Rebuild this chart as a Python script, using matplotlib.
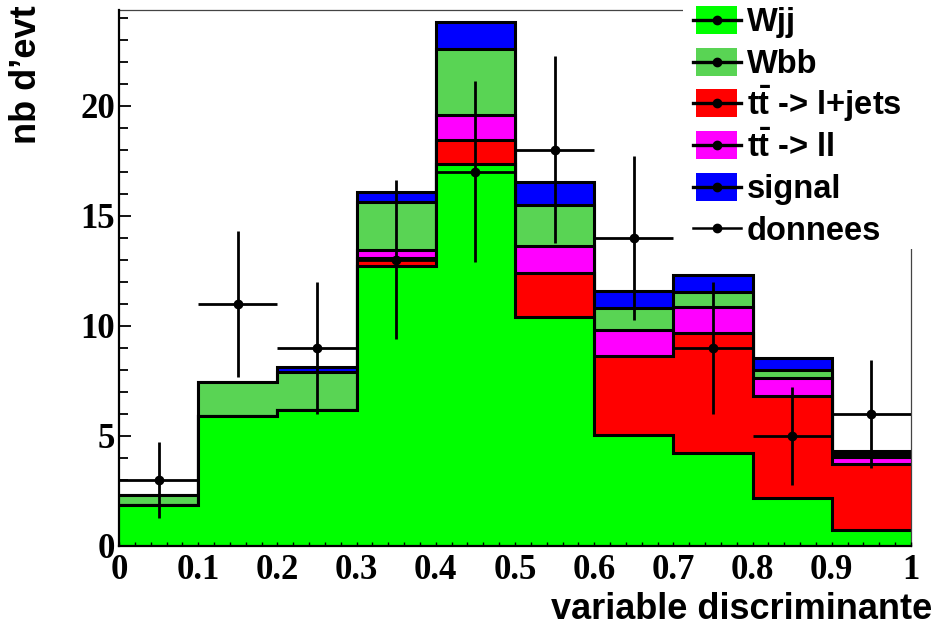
import numpy as np
import matplotlib
matplotlib.use("Agg")
import matplotlib.pyplot as plt
from matplotlib.patches import Rectangle
from matplotlib.lines import Line2D
from matplotlib.ticker import MultipleLocator
from matplotlib.font_manager import FontProperties

# ---------------- data ----------------
bin_edges = [0.0, 0.1, 0.2, 0.3, 0.4, 0.5, 0.6, 0.7, 0.8, 0.9, 1.0]
wjj      = [1.85, 5.90, 6.18, 12.72, 17.36, 10.42, 5.05, 4.24, 2.20, 0.73]
tt_ljets = [0.00, 0.00, 0.00, 0.38, 1.09, 1.98, 3.59, 5.43, 4.62, 2.98]
tt_ll    = [0.00, 0.00, 0.00, 0.35, 1.15, 1.24, 1.18, 1.18, 0.80, 0.32]
wbb      = [0.45, 1.57, 1.72, 2.20, 3.00, 1.86, 1.01, 0.68, 0.38, 0.15]
signal   = [0.00, 0.00, 0.24, 0.44, 1.20, 1.03, 0.77, 0.79, 0.53, 0.15]
donnees     = [3, 11, 9, 13, 17, 18, 14, 9, 5, 6]
donnees_err = [1.73, 3.32, 3.00, 3.61, 4.12, 4.24, 3.74, 3.00, 2.24, 2.45]

x_ticks = [0, 0.1, 0.2, 0.3, 0.4, 0.5, 0.6, 0.7, 0.8, 0.9, 1.0]
x_tick_labels = ["0", "0.1", "0.2", "0.3", "0.4", "0.5", "0.6", "0.7", "0.8", "0.9", "1"]
y_ticks = [0, 5, 10, 15, 20]
y_tick_labels = ["0", "5", "10", "15", "20"]

legend_labels = ["Wjj", "Wbb", r"$\mathrm{t\bar{t}}$ -> l+jets", r"$\mathrm{t\bar{t}}$ -> ll", "signal", "donnees"]

# ---------------- style ----------------
plt.rcParams['mathtext.fontset'] = 'custom'
plt.rcParams['mathtext.rm'] = 'Liberation Sans:bold'
plt.rcParams['mathtext.it'] = 'Liberation Sans:bold'
plt.rcParams['mathtext.bf'] = 'Liberation Sans:bold'

c_wjj = "#00ff00"
c_wbb = "#59d454"
c_ttlj = "#ff0000"
c_ttll = "#ff00ff"
c_sig = "#0000ff"

W, H = 938, 626
fig = plt.figure(figsize=(W / 100, H / 100), dpi=100)
ax = fig.add_axes([119 / W, 1 - 546 / H, 792 / W, 536 / H])

edges = np.array(bin_edges)
layers = [(wjj, c_wjj), (tt_ljets, c_ttlj), (tt_ll, c_ttll), (wbb, c_wbb), (signal, c_sig)]
cum = np.cumsum(np.array([l[0] for l in layers], dtype=float), axis=0)

for i in reversed(range(len(layers))):
    z = 1 + (len(layers) - i) * 0.1
    ax.stairs(cum[i], edges, baseline=0, fill=True, facecolor=layers[i][1],
              edgecolor='none', linewidth=0, zorder=z)
    ax.stairs(cum[i], edges, baseline=None, fill=False, edgecolor='black',
              linewidth=2.2, zorder=z + 0.05)

centers = 0.5 * (edges[:-1] + edges[1:])
halfw = 0.5 * np.diff(edges)
ax.errorbar(centers, donnees, yerr=donnees_err, xerr=halfw, fmt='o', color='black',
            ms=6, elinewidth=2.0, capsize=0, zorder=5)

ax.set_xlim(0, 1)
ax.set_ylim(0, 24.35)

tick_fp = FontProperties(family='Liberation Serif', weight='bold', size=25)
ax.set_xticks(x_ticks)
ax.set_xticklabels(x_tick_labels, fontproperties=tick_fp)
ax.set_yticks(y_ticks)
ax.set_yticklabels(y_tick_labels, fontproperties=tick_fp)
ax.xaxis.set_minor_locator(MultipleLocator(0.02))
ax.yaxis.set_minor_locator(MultipleLocator(1))
ax.tick_params(axis='x', which='both', direction='in', length=3, width=1, pad=6, top=False)
ax.tick_params(axis='y', which='major', direction='in', length=8.6, width=1.3, pad=3, right=False)
ax.tick_params(axis='y', which='minor', direction='in', length=6.5, width=1.3, right=False)
ax.yaxis.set_zorder(0.5)
ax.xaxis.set_zorder(6)

for s in ['left', 'bottom']:
    ax.spines[s].set_linewidth(1.6)
    ax.spines[s].set_zorder(7)
for s in ['top', 'right']:
    ax.spines[s].set_linewidth(0.9)
    ax.spines[s].set_color('#444444')

lab_fp = FontProperties(family='Liberation Sans', weight='bold', size=26)
fig.text(932 / W, 1 - 619 / H, "variable discriminante", ha='right', va='baseline', fontproperties=lab_fp)
fig.text(27 / W, 1 - 5 / H, "nb d\u2019evt", rotation=90, ha='center', va='top', fontproperties=lab_fp)

# ---------------- legend ----------------
fig.add_artist(Rectangle((683 / W, 1 - 249 / H), (W - 683) / W, 249 / H,
                         transform=fig.transFigure, facecolor='white', edgecolor='none', zorder=10))
leg_colors = [c_wjj, c_wbb, c_ttlj, c_ttll, c_sig, None]
leg_fp = FontProperties(family='Liberation Sans', weight='bold', size=23.5)
for k, (lab, col) in enumerate(zip(legend_labels, leg_colors)):
    cy = 20 + 41.7 * k
    if col is not None:
        fig.add_artist(Rectangle((696 / W, 1 - (cy + 14) / H), 41 / W, 28 / H,
                                 transform=fig.transFigure, facecolor=col, edgecolor='none', zorder=11))
    fig.add_artist(Line2D([693 / W, 741 / W], [1 - cy / H, 1 - cy / H], transform=fig.transFigure,
                          color='black', lw=2.4 if col is not None else 1.8, zorder=12))
    fig.add_artist(Line2D([717 / W], [1 - cy / H], transform=fig.transFigure, marker='o', ms=6,
                          color='black', lw=0, zorder=13))
    fig.text(747 / W, 1 - (cy + 11.5) / H, lab, ha='left', va='baseline', fontproperties=leg_fp, zorder=14)

fig.savefig("out.png", dpi=100)
